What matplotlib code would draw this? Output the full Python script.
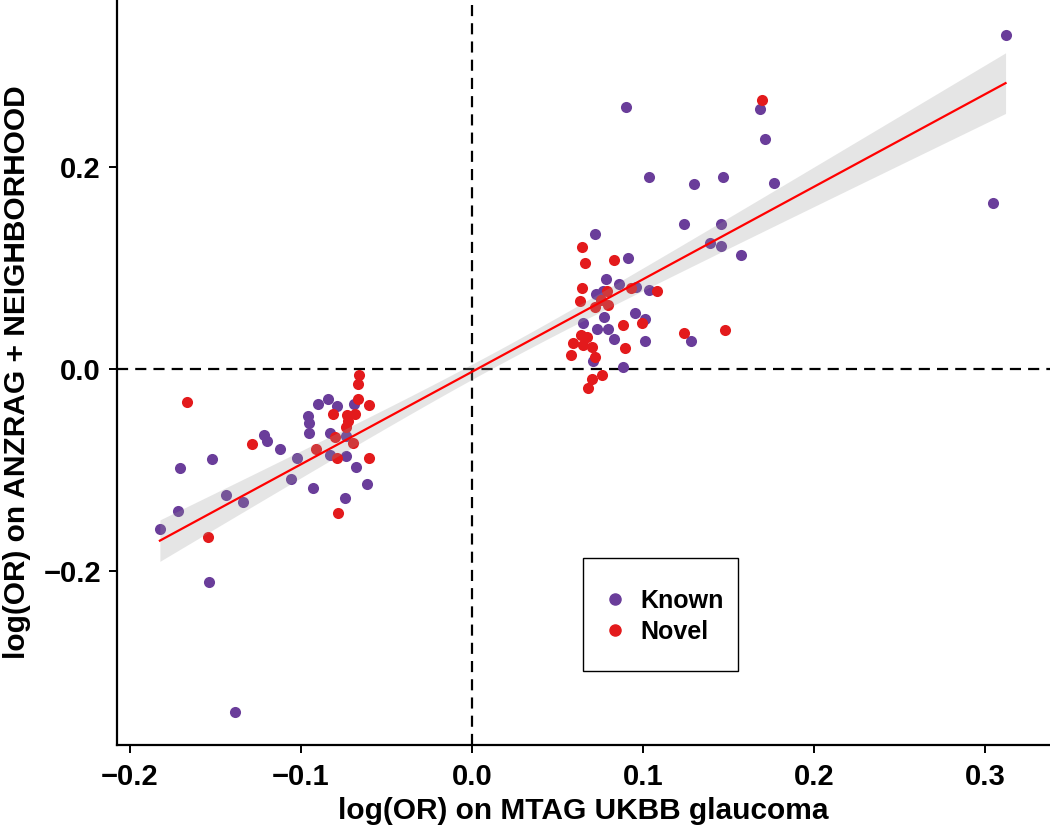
import numpy as np
import matplotlib
matplotlib.use("Agg")
import matplotlib.pyplot as plt
from matplotlib.lines import Line2D
from matplotlib.patches import Rectangle

known_x = [-0.1825, -0.171, -0.172, -0.154, -0.1386, -0.152, -0.1439, -0.134, -0.1218, -0.1197,
           -0.1121, -0.1057, -0.1021, -0.0932, -0.0957, -0.0951, -0.0955, -0.0898, -0.0844, -0.0791,
           -0.0829, -0.083, -0.0737, -0.069, -0.0735, -0.068, -0.0612, -0.0743,
           0.0899, 0.1686, 0.1716, 0.1035, 0.1296, 0.1470, 0.1768, 0.1238, 0.1456, 0.1392,
           0.1454, 0.1571, 0.0719, 0.0910, 0.0784, 0.086, 0.0957, 0.1037, 0.0727, 0.0764,
           0.0647, 0.0774, 0.0953, 0.1014, 0.0731, 0.0797, 0.0830, 0.101, 0.128, 0.0706,
           0.0881, 0.3123, 0.3045]
known_y = [-0.158, -0.098, -0.141, -0.211, -0.340, -0.089, -0.125, -0.132, -0.0657, -0.0713,
           -0.0792, -0.109, -0.0878, -0.118, -0.0465, -0.0538, -0.0637, -0.035, -0.0297, -0.0363,
           -0.0637, -0.0848, -0.0663, -0.035, -0.0861, -0.097, -0.114, -0.128,
           0.259, 0.257, 0.2277, 0.190, 0.183, 0.190, 0.1845, 0.1439, 0.1432, 0.1244,
           0.122, 0.1129, 0.1337, 0.110, 0.089, 0.0838, 0.0815, 0.078, 0.0743, 0.0769,
           0.0459, 0.0515, 0.0558, 0.0495, 0.0396, 0.0396, 0.0297, 0.0274, 0.028, 0.0079,
           0.0017, 0.3307, 0.1644]

novel_x = [-0.1665, -0.1546, -0.1287, -0.0912, -0.0815, -0.0801, -0.0737, -0.0723, -0.0733, -0.0684,
           -0.0665, -0.0667, -0.066, -0.060, -0.0694, -0.0789, -0.0604, -0.0786,
           0.1698, 0.0643, 0.0663, 0.0830, 0.0645, 0.0928, 0.108, 0.0788, 0.0632, 0.0719,
           0.0797, 0.0754, 0.0996, 0.0881, 0.1242, 0.1478, 0.0635, 0.067, 0.0589, 0.065,
           0.070, 0.0579, 0.0721, 0.0897, 0.076, 0.070, 0.068]
novel_y = [-0.0324, -0.166, -0.0743, -0.0789, -0.0446, -0.067, -0.0571, -0.052, -0.0455, -0.0449,
           -0.0297, -0.0149, -0.006, -0.0356, -0.0736, -0.0881, -0.0878, -0.143,
           0.266, 0.1204, 0.105, 0.1082, 0.0799, 0.0799, 0.077, 0.0775, 0.0673, 0.0611,
           0.0634, 0.0683, 0.0459, 0.0436, 0.0359, 0.0386, 0.0337, 0.032, 0.0253, 0.0238,
           0.0215, 0.0139, 0.0116, 0.0211, -0.0059, -0.0102, -0.0191]

# linear fit and its 95% confidence band
fit_x_range = [-0.1825, 0.312]
fit_intercept = -0.0028
fit_slope = 0.916
ci_half_center = 0.0074
ci_x_center = 0.0137
ci_spread = 0.0975

x_ticks = [-0.2, -0.1, 0.0, 0.1, 0.2, 0.3]
y_ticks = [-0.2, 0.0, 0.2]

PURPLE = "#6A3D9A"
RED = "#E31A1C"

plt.rcParams['font.family'] = ["Liberation Sans", 'DejaVu Sans']

W, H = 1050, 831
fig = plt.figure(figsize=(W / 100, H / 100), dpi=100)
ax = fig.add_axes([0.1114, 0.1035, 0.8886, 0.8965])

ax.scatter(known_x, known_y, s=64, color=PURPLE, linewidths=0, zorder=2)
ax.scatter(novel_x, novel_y, s=64, color=RED, linewidths=0, zorder=2)

xg = np.linspace(fit_x_range[0], fit_x_range[1], 200)
yg = fit_intercept + fit_slope * xg
half = np.sqrt(ci_half_center ** 2 + (ci_spread * (xg - ci_x_center)) ** 2)
ax.fill_between(xg, yg - half, yg + half, color="#999999", alpha=0.25, linewidth=0, zorder=3)
ax.plot(xg, yg, color="#FF0000", lw=1.6, zorder=4)

ax.axhline(0, color="black", lw=1.6, dashes=(5, 3.2), zorder=1)
ax.axvline(0, color="black", lw=1.6, dashes=(5, 3.2), zorder=1)

ax.set_xlim(-0.2076, 0.338)
ax.set_ylim(-0.3723, 0.3653)
ax.set_xticks(x_ticks)
ax.set_yticks(y_ticks)
ax.set_xticklabels([f"{t:.1f}".replace("-", "\u2212") for t in x_ticks])
ax.set_yticklabels([f"{t:.1f}".replace("-", "\u2212") for t in y_ticks])
for sp in ["top", "right"]:
    ax.spines[sp].set_visible(False)
for sp in ["left", "bottom"]:
    ax.spines[sp].set_linewidth(1.6)
ax.tick_params(axis="both", length=6, width=1.4, labelsize=21)
ax.tick_params(axis="x", pad=7)
ax.tick_params(axis="y", pad=5.5)
for lab in ax.get_xticklabels() + ax.get_yticklabels():
    lab.set_fontweight("bold")

ax.set_xlabel("log(OR) on MTAG UKBB glaucoma", fontsize=21.5, fontweight="bold", labelpad=4)
ax.set_ylabel("log(OR) on ANZRAG + NEIGHBORHOOD", fontsize=21.5, fontweight="bold")
ax.yaxis.set_label_coords(-0.0922, 0.5)

# legend box (drawn in figure pixel coordinates)
box_l, box_t, box_r, box_b = 583, 558, 738, 671
fig.patches.append(Rectangle((box_l / W, 1 - box_b / H), (box_r - box_l) / W, (box_b - box_t) / H,
                             transform=fig.transFigure, facecolor="none", edgecolor="black",
                             linewidth=1.0, zorder=5))

handles = [Line2D([], [], marker="o", ls="", color=PURPLE, markersize=8, label="Known"),
           Line2D([], [], marker="o", ls="", color=RED, markersize=8, label="Novel")]
leg = ax.legend(handles=handles, loc="upper left", bbox_to_anchor=(608 / W, 1 - 589 / H),
                bbox_transform=fig.transFigure, borderaxespad=0, frameon=False,
                prop={"size": 18, "weight": "bold"}, handletextpad=0.72, borderpad=0,
                labelspacing=0.28, handlelength=0.56)
leg.set_zorder(6)

fig.savefig("out.png", dpi=100)
